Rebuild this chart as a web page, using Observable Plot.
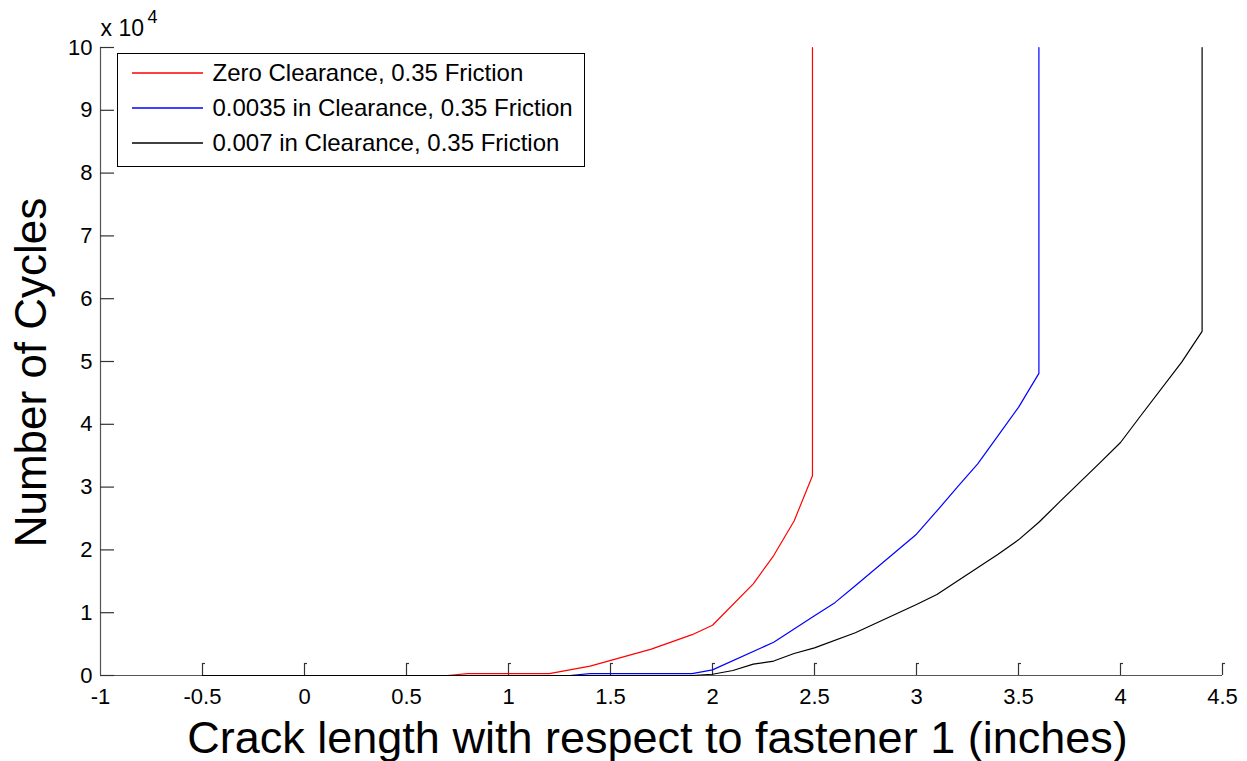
<!DOCTYPE html>
<html>
<head>
<meta charset="utf-8">
<script src="https://cdn.jsdelivr.net/npm/d3@7"></script>
<script src="https://cdn.jsdelivr.net/npm/@observablehq/plot@0.6"></script>
<style>
  html, body { margin: 0; padding: 0; background: #fff; }
  #wrap { position: relative; width: 1247px; height: 761px; font-family: "Liberation Sans", Arial, Helvetica, sans-serif; }
  #wrap > svg { display: block; }
  .legend { position: absolute; left: 117px; top: 53px; width: 466px; height: 110px;
            border: 1.5px solid #000; background: #fff; padding-top: 2px; box-sizing: content-box; }
  .legend .row { display: flex; align-items: center; height: 34.7px; }
  .legend .sw { display: block; margin-left: 13.5px; margin-right: 10px; }
  .legend .lab { font-size: 24px; color: #000; white-space: nowrap; }
</style>
</head>
<body>
<div id="wrap"></div>
<script>
// ---- data ----
const seriesNames = [
  "Zero Clearance, 0.35 Friction",
  "0.0035 in Clearance, 0.35 Friction",
  "0.007 in Clearance, 0.35 Friction"
];
const seriesColors = ["#ff0000", "#0000ff", "#000000"];

const zeroCrack   = [-0.5, 0.7, 0.8, 1.2, 1.4, 1.7, 1.9, 2.0, 2.2, 2.3, 2.4, 2.49, 2.49];
const zeroCycles  = [0, 0, 300, 300, 1500, 4200, 6500, 8000, 14600, 19100, 24600, 31800, 100000];

const c0035Crack  = [-0.5, 1.3, 1.4, 1.9, 2.0, 2.3, 2.5, 2.6, 2.7, 3.0, 3.1, 3.2, 3.3, 3.4, 3.5, 3.6, 3.6];
const c0035Cycles = [0, 0, 300, 300, 900, 5300, 9500, 11600, 14300, 22500, 26200, 30000, 33700, 38200, 42700, 48100, 100000];

const c007Crack   = [-0.5, 1.9, 2.0, 2.1, 2.2, 2.3, 2.4, 2.5, 2.7, 3.0, 3.1, 3.4, 3.5, 3.6, 3.7, 3.9, 4.0, 4.1, 4.3, 4.4, 4.4];
const c007Cycles  = [0, 0, 200, 800, 1800, 2300, 3500, 4400, 6800, 11300, 12900, 19300, 21600, 24400, 27600, 33900, 37100, 41400, 49900, 54800, 100000];

const xTicks = [-1, -0.5, 0, 0.5, 1, 1.5, 2, 2.5, 3, 3.5, 4, 4.5];
const yTicks = [0, 10000, 20000, 30000, 40000, 50000, 60000, 70000, 80000, 90000, 100000];
const xDomain = [-1, 4.5];
const yDomain = [0, 100000];

const xLabel = "Crack length with respect to fastener 1 (inches)";
const yLabel = "Number of Cycles";
const yExpBase = "x 10";
const yExp = "4";

// ---- table ----
const crackSets = [zeroCrack, c0035Crack, c007Crack];
const cycleSets = [zeroCycles, c0035Cycles, c007Cycles];
const rows = [];
crackSets.forEach((xs, s) => xs.forEach((x, i) => rows.push({series: seriesNames[s], crack: x, cycles: cycleSets[s][i]})));

const font = '"Liberation Sans", Arial, Helvetica, sans-serif';
const axisColor = "#555";

const chart = Plot.plot({
  width: 1247,
  height: 761,
  marginLeft: 100,
  marginRight: 25,
  marginTop: 47,
  marginBottom: 86,
  style: {fontFamily: font, fontSize: "22px", color: "#000", background: "#fff", overflow: "visible"},
  x: {domain: xDomain},
  y: {domain: yDomain},
  color: {domain: seriesNames, range: seriesColors},
  marks: [
    Plot.axisX({ticks: xTicks, tickSize: 0, tickPadding: 13, label: null, tickFormat: d => String(d), fontSize: 22}),
    Plot.axisY({ticks: yTicks, tickSize: 0, tickPadding: 8, label: null, tickFormat: d => String(d / 10000), fontSize: 22}),
    // spines
    Plot.ruleX([xDomain[0]], {stroke: axisColor, strokeWidth: 1.2}),
    Plot.ruleY([yDomain[0]], {stroke: axisColor, strokeWidth: 1.2}),
    // inward x ticks with a small hook
    Plot.ruleX(xTicks.slice(1), {x: d => d, y1: yDomain[0], y2: yDomain[0], insetBottom: 12, stroke: "#333", strokeWidth: 1.2}),
    Plot.ruleY(xTicks.slice(1), {y: yDomain[0], x1: d => d, x2: d => d, insetRight: -3, dy: -12, stroke: "#333", strokeWidth: 1.2}),
    // inward y ticks
    Plot.ruleY(yTicks, {y: d => d, x1: xDomain[0], x2: xDomain[0], insetRight: -14, stroke: "#333", strokeWidth: 1.2}),
    // data
    Plot.line(rows, {x: "crack", y: "cycles", z: "series", stroke: "series", strokeWidth: 1.2}),
    // titles
    Plot.text([xLabel], {text: d => d, frameAnchor: "bottom", textAnchor: "middle", lineAnchor: "middle", dx: -4, dy: 63, fontSize: 45, fill: "#000"}),
    Plot.text([yLabel], {text: d => d, frameAnchor: "left", textAnchor: "middle", lineAnchor: "middle", dx: -69, dy: 11, rotate: -90, fontSize: 44, fill: "#000"}),
    Plot.text([yExpBase], {text: d => d, frameAnchor: "top-left", textAnchor: "start", lineAnchor: "middle", dx: 0, dy: -19, fontSize: 23, fill: "#000"}),
    Plot.text([yExp], {text: d => d, frameAnchor: "top-left", textAnchor: "start", lineAnchor: "middle", dx: 47, dy: -30, fontSize: 18, fill: "#000"})
  ]
});

const wrap = document.getElementById("wrap");
wrap.appendChild(chart);

// legend overlay
const NS = "http://www.w3.org/2000/svg";
const legend = document.createElement("div");
legend.className = "legend";
seriesNames.forEach((name, i) => {
  const row = document.createElement("div");
  row.className = "row";
  const sw = document.createElementNS(NS, "svg");
  sw.setAttribute("class", "sw");
  sw.setAttribute("width", "71");
  sw.setAttribute("height", "4");
  const ln = document.createElementNS(NS, "line");
  ln.setAttribute("x1", "0"); ln.setAttribute("x2", "71");
  ln.setAttribute("y1", "2"); ln.setAttribute("y2", "2");
  ln.setAttribute("stroke", seriesColors[i]);
  ln.setAttribute("stroke-width", "1.3");
  sw.appendChild(ln);
  const lab = document.createElement("span");
  lab.className = "lab";
  lab.textContent = name;
  row.appendChild(sw);
  row.appendChild(lab);
  legend.appendChild(row);
});
wrap.appendChild(legend);
</script>
</body>
</html>
